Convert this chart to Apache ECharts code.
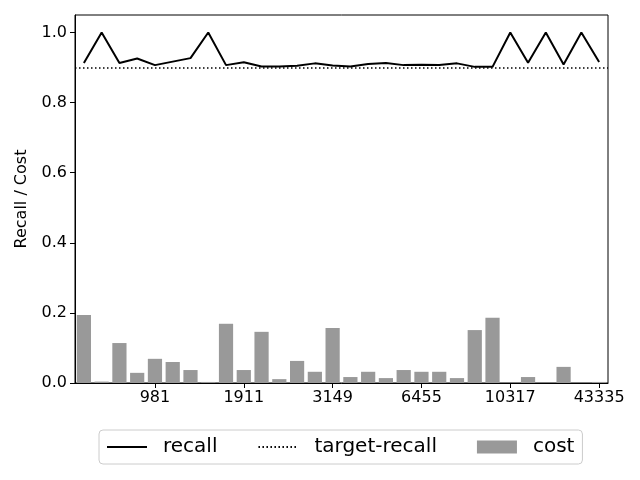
<!DOCTYPE html>
<html>
<head>
<meta charset="utf-8">
<script src="https://cdn.jsdelivr.net/npm/echarts@6/dist/echarts.min.js"></script>
<style>html,body{margin:0;padding:0;background:#fff}#c{width:640px;height:480px}</style>
</head>
<body>
<div id="c"></div>
<script>
// Data
const positions = ['0','1','2','3','4','5','6','7','8','9','10','11','12','13','14','15','16','17','18','19','20','21','22','23','24','25','26','27','28','29'];
const tickIndex = [4, 9, 14, 19, 24, 29];
const tickLabels = ['981', '1911', '3149', '6455', '10317', '43335'];
const recall = [0.913, 1.0, 0.913, 0.926, 0.907, 0.917, 0.927, 1.0, 0.907, 0.915,
                0.903, 0.903, 0.905, 0.912, 0.906, 0.903, 0.910, 0.913, 0.907, 0.908,
                0.907, 0.912, 0.902, 0.902, 1.0, 0.914, 1.0, 0.909, 1.0, 0.916];
const cost = [0.194, 0.004, 0.114, 0.029, 0.069, 0.060, 0.037, 0.003, 0.169, 0.037,
              0.146, 0.011, 0.063, 0.032, 0.157, 0.017, 0.032, 0.014, 0.037, 0.032,
              0.032, 0.014, 0.151, 0.186, 0, 0.017, 0, 0.046, 0, 0.003];
const targetRecall = 0.9;
const yTicks = [0, 0.2, 0.4, 0.6, 0.8, 1.0];

const FONT = 'DejaVu Sans';
const chart = echarts.init(document.getElementById('c'), null, {renderer: 'canvas'});
chart.setOption({
  animation: false,
  textStyle: {fontFamily: FONT},
  grid: {left: 75, right: 32, top: 15, bottom: 97, show: true, borderColor: '#000', borderWidth: 1, containLabel: false},
  legend: {
    left: 99, top: 430,
    padding: [7, 8, 7, 7],
    borderColor: '#cccccc', borderWidth: 1, borderRadius: 4,
    itemWidth: 40, itemHeight: 13, itemGap: 40,
    textStyle: {fontFamily: FONT, fontSize: 20, color: '#000', padding: [0, 0, 0, 11]},
    data: [
      {name: 'recall', itemStyle: {opacity: 0}},
      {name: 'target-recall', itemStyle: {opacity: 0}},
      {name: 'cost', icon: 'rect'}
    ]
  },
  xAxis: {
    type: 'category',
    data: positions,
    boundaryGap: true,
    axisLine: {show: true, lineStyle: {color: '#000', width: 1}},
    axisTick: {show: true, alignWithLabel: true, length: 5, lineStyle: {color: '#000'},
      interval: (i) => tickIndex.includes(i)},
    axisLabel: {show: true, color: '#000', fontSize: 16, fontFamily: FONT, margin: 7,
      interval: (i) => tickIndex.includes(i),
      formatter: (v, i) => { const k = tickIndex.indexOf(i); return k >= 0 ? tickLabels[k] : ''; }},
    splitLine: {show: false}
  },
  yAxis: {
    type: 'value',
    min: 0, max: 1.05,
    name: 'Recall / Cost',
    nameLocation: 'middle',
    nameGap: 45,
    nameRotate: 90,
    nameTextStyle: {fontFamily: FONT, fontSize: 16, color: '#000'},
    axisLine: {show: true, lineStyle: {color: '#000', width: 1}},
    axisTick: {show: true, length: 5, lineStyle: {color: '#000'}, customValues: yTicks},
    axisLabel: {color: '#000', fontSize: 16, fontFamily: FONT, margin: 8, customValues: yTicks,
      formatter: (v) => v.toFixed(1)},
    splitLine: {show: false}
  },
  series: [
    {
      name: 'cost', type: 'bar', data: cost,
      barCategoryGap: '20%',
      itemStyle: {color: '#999999'},
      z: 1
    },
    {
      name: 'target-recall', type: 'line', data: [],
      symbol: 'none',
      lineStyle: {color: '#000', width: 1.5, type: [1.5, 2.5]},
      itemStyle: {color: '#000'},
      markLine: {
        silent: true, symbol: 'none',
        label: {show: false},
        lineStyle: {color: '#000', width: 1.5, type: [1.5, 2.5]},
        data: [{yAxis: targetRecall}]
      },
      z: 2
    },
    {
      name: 'recall', type: 'line', data: recall,
      symbol: 'none',
      lineStyle: {color: '#000', width: 2},
      itemStyle: {color: '#000'},
      z: 3
    }
  ]
});
</script>
</body>
</html>
